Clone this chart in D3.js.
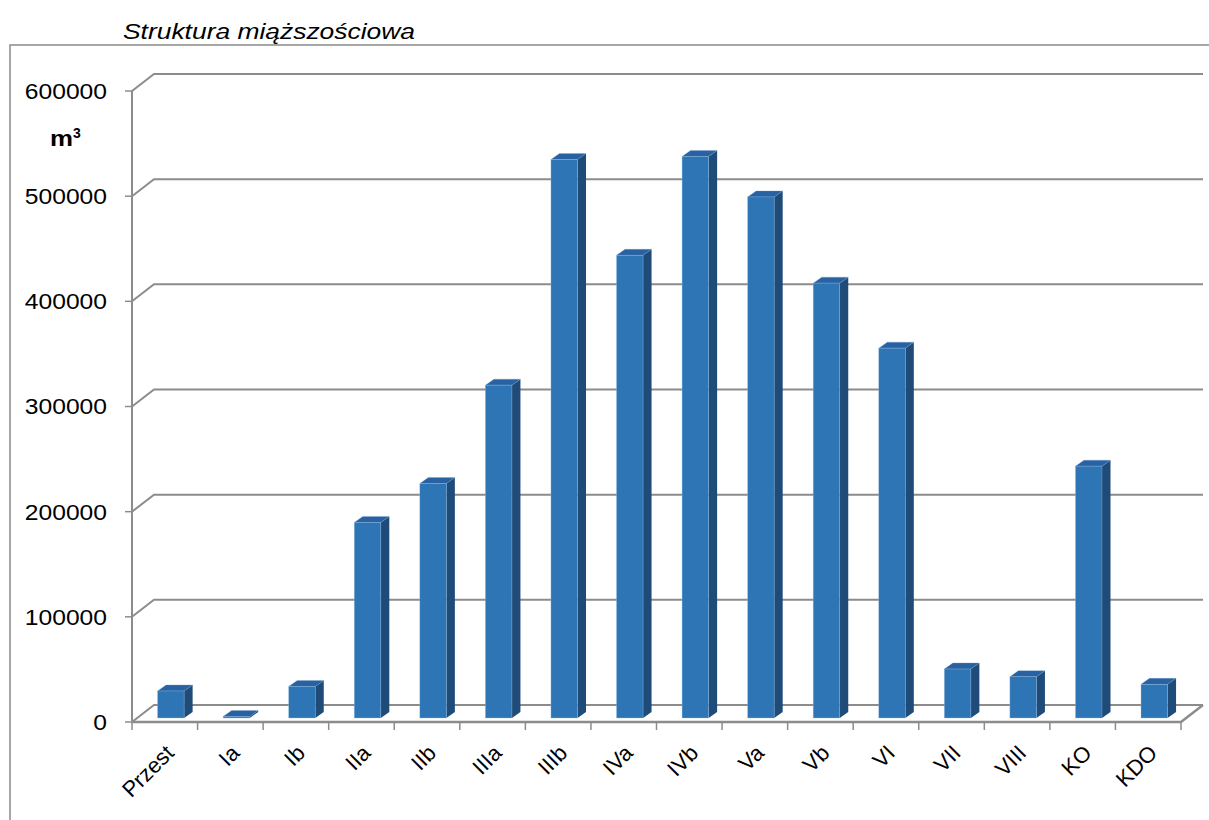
<!DOCTYPE html>
<html><head><meta charset="utf-8">
<script src="https://cdn.jsdelivr.net/npm/d3@7"></script>
<style>body{margin:0;background:#fff}svg{display:block}text{font-family:"Liberation Sans",Arial,sans-serif;fill:#000}</style>
</head><body>
<script>
const categories = ["Przest","Ia","Ib","IIa","IIb","IIIa","IIIb","IVa","IVb","Va","Vb","VI","VII","VIII","KO","KDO"];
const values = [25700, 1500, 30000, 186000, 223000, 316500, 531000, 440000, 534000, 495500, 413500, 351700, 46600, 39300, 239500, 32000];
const yTicks = [0, 100000, 200000, 300000, 400000, 500000, 600000];
const title = "Struktura miąższościowa";
const unit = "m";
const unitSup = "3";

const W = 1209, H = 820;
const svg = d3.select("body").append("svg").attr("width", W).attr("height", H);

const x0 = 132, x1 = 1181, yBase = 722, yTop = 91;
const depthX = 22, depthY = 17;
const x = d3.scaleBand().domain(categories).range([x0, x1]).paddingInner(0).paddingOuter(0);
const y = d3.scaleLinear().domain([0, 600000]).range([yBase, yTop]);

// outer frame
svg.append("path").attr("d", `M10,${H} L10,45 L${W},45`).attr("fill","none").attr("stroke","#8a8a8a").attr("stroke-width",1.5);

// title
svg.append("text").attr("x",123).attr("y",39).attr("textLength",292).attr("lengthAdjust","spacingAndGlyphs")
  .style("font-size","22.5px").style("font-style","italic").text(title);

// gridlines (back wall + side wall)
const grid = "#8c8c8c";
svg.append("g").selectAll("path").data(yTicks).join("path")
  .attr("d", d => `M${x0},${y(d)} L${x0+depthX},${y(d)-depthY} L${x1+depthX},${y(d)-depthY}`)
  .attr("fill","none").attr("stroke",grid).attr("stroke-width",2);

// floor front edge
svg.append("path").attr("d", `M${x0},${yBase} L${x1},${yBase} L${x1+depthX},${yBase-depthY}`)
  .attr("fill","none").attr("stroke",grid).attr("stroke-width",2.5);

// y axis line
svg.append("line").attr("x1",x0).attr("x2",x0).attr("y1",yTop).attr("y2",yBase).attr("stroke",grid).attr("stroke-width",2);
// y ticks
svg.append("g").selectAll("line").data(yTicks).join("line")
  .attr("x1",x0-7).attr("x2",x0).attr("y1",d=>y(d)).attr("y2",d=>y(d)).attr("stroke",grid).attr("stroke-width",1.5);
svg.append("g").selectAll("text").data(yTicks).join("text")
  .attr("x",107).attr("y",d => y(d)).attr("text-anchor","end").attr("dy","0.36em")
  .attr("textLength", d => String(d).length * 13.7).attr("lengthAdjust","spacingAndGlyphs")
  .style("font-size","22px").text(d => d3.format("d")(d));

// x ticks
const bounds = categories.map(c => x(c)).concat([x1]);
svg.append("g").selectAll("line").data(bounds).join("line")
  .attr("x1",d=>d).attr("x2",d=>d).attr("y1",yBase).attr("y2",yBase+8).attr("stroke",grid).attr("stroke-width",1.5);

// unit
const ut = svg.append("text").attr("x",50).attr("y",146).style("font-size","22px").style("font-weight","bold");
ut.append("tspan").attr("textLength",23).attr("lengthAdjust","spacingAndGlyphs").text(unit);
ut.append("tspan").attr("dy",-8).style("font-size","14px").text(unitSup);

// bars
const bw = x.bandwidth();
const faceW = bw * 0.405, faceOff = bw * 0.39;
const bdx = 8.5, bdy = 6, lift = 4;
const cFront = "#2E75B6", cSide = "#1F4B78", cTop = "#2862A2";
const bars = svg.append("g").selectAll("g").data(categories.map((c,i)=>({c, v: values[i]}))).join("g");
bars.each(function(d){
  const g = d3.select(this);
  const xl = x(d.c) + faceOff, xr = xl + faceW;
  const yb = y(0) - lift, yt = y(d.v) - lift;
  g.append("path").attr("d", `M${xr},${yb} L${xr+bdx},${yb-bdy} L${xr+bdx},${yt-bdy} L${xr},${yt} Z`).attr("fill", cSide);
  g.append("path").attr("d", `M${xl},${yt} L${xl+bdx},${yt-bdy} L${xr+bdx},${yt-bdy} L${xr},${yt} Z`).attr("fill", cTop).attr("stroke","rgba(120,160,210,0.5)").attr("stroke-width",0.6);
  g.append("rect").attr("x", xl).attr("y", yt).attr("width", faceW).attr("height", Math.max(0, yb - yt)).attr("fill", cFront).attr("stroke","rgba(150,190,230,0.6)").attr("stroke-width",0.6);
});

// x labels
svg.append("g").selectAll("text").data(categories).join("text")
  .attr("transform", c => `translate(${x(c)+bw/2+5},749) rotate(-45)`)
  .attr("text-anchor","end").attr("dy","0.35em").style("font-size","22px").text(c => c);
</script>
</body></html>
